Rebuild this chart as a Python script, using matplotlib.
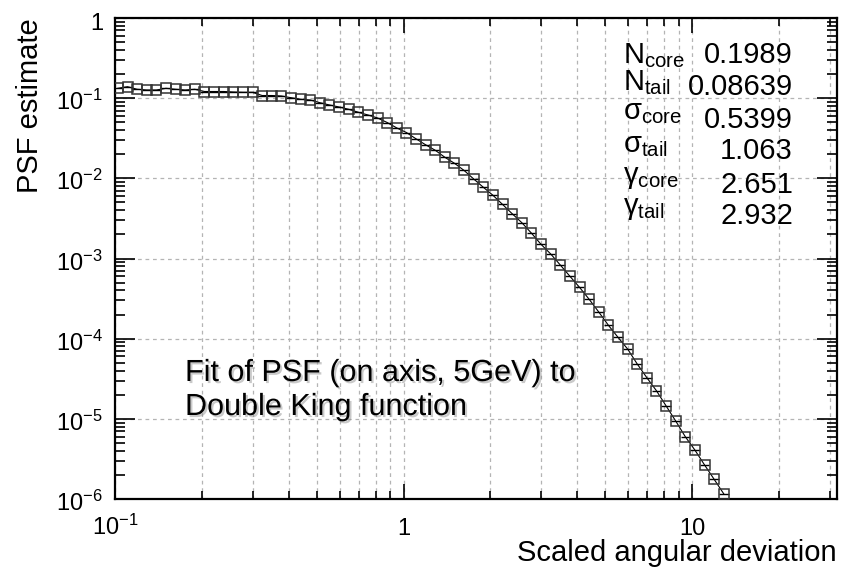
import matplotlib
matplotlib.use("Agg")
import numpy as np
import matplotlib.pyplot as plt
import matplotlib.patheffects as pe
from matplotlib.ticker import FixedLocator, LogLocator, NullFormatter
from matplotlib.transforms import offset_copy

plt.rcParams['font.family'] = ['Liberation Sans', 'DejaVu Sans']
plt.rcParams['mathtext.default'] = 'regular'

# scaled angular deviation (bin centres) and PSF estimate
x_dev = [0.1023, 0.1105, 0.1193, 0.1288, 0.1391, 0.1502, 0.1622, 0.1751, 0.1891, 0.2042,
         0.2205, 0.2380, 0.2570, 0.2776, 0.2997, 0.3236, 0.3494, 0.3773, 0.4074, 0.4399,
         0.4750, 0.5129, 0.5538, 0.5980, 0.6457, 0.6972, 0.7528, 0.8129, 0.8777, 0.9477,
         1.023, 1.105, 1.193, 1.288, 1.391, 1.502, 1.622, 1.751, 1.891, 2.042,
         2.205, 2.380, 2.570, 2.776, 2.997, 3.236, 3.494, 3.773, 4.074, 4.399,
         4.750, 5.129, 5.538, 5.980, 6.457, 6.972, 7.528, 8.129, 8.777, 9.477,
         10.23, 11.05, 11.93, 12.88]
psf = [0.1327, 0.139, 0.129, 0.1265, 0.1265, 0.1327, 0.129, 0.1265, 0.129, 0.1211,
       0.1211, 0.1211, 0.1194, 0.1184, 0.1184, 0.1079, 0.1079, 0.1064, 0.1014, 0.0968,
       0.0949, 0.0878, 0.0822, 0.0776, 0.0726, 0.0667, 0.0617, 0.0566, 0.0497, 0.0425,
       0.0373, 0.0311, 0.0262, 0.0224, 0.0183, 0.0154, 0.01253, 0.00981, 0.00773, 0.00614,
       0.00472, 0.00362, 0.00280, 0.00207, 0.00150, 0.00114, 0.000830, 0.000600, 0.000437, 0.000310,
       0.000215, 0.000147, 0.000104, 7.43e-5, 4.83e-5, 3.26e-5, 2.24e-5, 1.45e-5, 9.4e-6, 5.98e-6,
       4.08e-6, 2.66e-6, 1.76e-6, 1.16e-6]

par_names = ['$N_{core}$', '$N_{tail}$', '$σ_{core}$', '$σ_{tail}$', '$γ_{core}$', '$γ_{tail}$']
par_values = ['0.1989', '0.08639', '0.5399', '1.063', '2.651', '2.932']

x_ticks = [0.1, 1, 10]
x_tick_labels = ['$10^{-1}$', '1', '10']
y_ticks = [1e-6, 1e-5, 1e-4, 1e-3, 1e-2, 1e-1, 1]
y_tick_labels = ['$10^{-6}$', '$10^{-5}$', '$10^{-4}$', '$10^{-3}$', '$10^{-2}$', '$10^{-1}$', '1']

W, H = 841, 568
fig = plt.figure(figsize=(W / 100, H / 100), dpi=100)
ax = fig.add_axes([115 / W, 1 - 499 / H, (837 - 115) / W, (499 - 18) / H])

x = np.array(x_dev)
y = np.array(psf)
half = 10 ** (1 / 60)
ax.plot(x, y, '-', color='black', lw=0.8, zorder=3)
ax.errorbar(x, y, xerr=[x - x / half, x * half - x], fmt='s', ms=6.6, mfc='none',
            mec='#333333', mew=1.1, ecolor='black', elinewidth=1.0, capsize=0, zorder=4)

ax.set_xscale('log')
ax.set_yscale('log')
ax.set_xlim(0.1, 31.8)
ax.set_ylim(1e-6, 1)

ax.xaxis.set_major_locator(FixedLocator(x_ticks))
ax.xaxis.set_minor_locator(LogLocator(base=10, subs=np.arange(2, 10)))
ax.yaxis.set_major_locator(FixedLocator(y_ticks))
ax.yaxis.set_minor_locator(LogLocator(base=10, subs=np.arange(2, 10), numticks=20))
ax.xaxis.set_major_formatter(NullFormatter())
ax.xaxis.set_minor_formatter(NullFormatter())
ax.yaxis.set_major_formatter(NullFormatter())
ax.yaxis.set_minor_formatter(NullFormatter())

ax.tick_params(which='both', direction='in', top=True, right=True, width=1.2, color='black')
ax.tick_params(axis='x', which='major', length=11)
ax.tick_params(axis='x', which='minor', length=5.5)
ax.tick_params(axis='y', which='major', length=14.5)
ax.tick_params(axis='y', which='minor', length=7)
for s in ax.spines.values():
    s.set_linewidth(1.6)

grid_kw = dict(color='#b4b4b4', lw=0.9, ls=(0, (3, 3)))
ax.grid(True, which='both', axis='x', **grid_kw)
ax.grid(True, which='major', axis='y', **grid_kw)
ax.set_axisbelow(True)

# tick labels placed on their baselines
xt = offset_copy(ax.get_xaxis_transform(), fig=fig, x=0, y=-36, units='dots')
for v, lab in zip(x_ticks, x_tick_labels):
    ax.text(v, 0, lab, transform=xt, ha='center', va='baseline', fontsize=17)
yt = offset_copy(ax.get_yaxis_transform(), fig=fig, x=-12, y=-12, units='dots')
for v, lab in zip(y_ticks, y_tick_labels):
    ax.text(0, v, lab, transform=yt, ha='right', va='baseline', fontsize=17)

fig.text(30 / W, 1 - 18 / H, 'PSF estimate', rotation=90, ha='center', va='top', fontsize=21)
fig.text(837 / W, 1 - 553 / H, 'Scaled angular deviation', ha='right', va='center', fontsize=21)

name_base = [63, 90, 119, 152, 183, 214]
val_base = [63, 95, 128, 159, 193, 224]
for name, val, nb, vb in zip(par_names, par_values, name_base, val_base):
    fig.text(623 / W, 1 - nb / H, name, ha='left', va='baseline', fontsize=21)
    fig.text(793 / W, 1 - vb / H, val, ha='right', va='baseline', fontsize=21)

shadow = [pe.withSimplePatchShadow(offset=(1.5, -1.5), shadow_rgbFace='#888888', alpha=0.45)]
fig.text(185 / W, 1 - 381 / H, 'Fit of PSF (on axis, 5GeV) to', ha='left', va='baseline',
         fontsize=22, path_effects=shadow)
fig.text(185 / W, 1 - 415 / H, 'Double King function', ha='left', va='baseline',
         fontsize=22, path_effects=shadow)

fig.savefig('out.png', dpi=100)
